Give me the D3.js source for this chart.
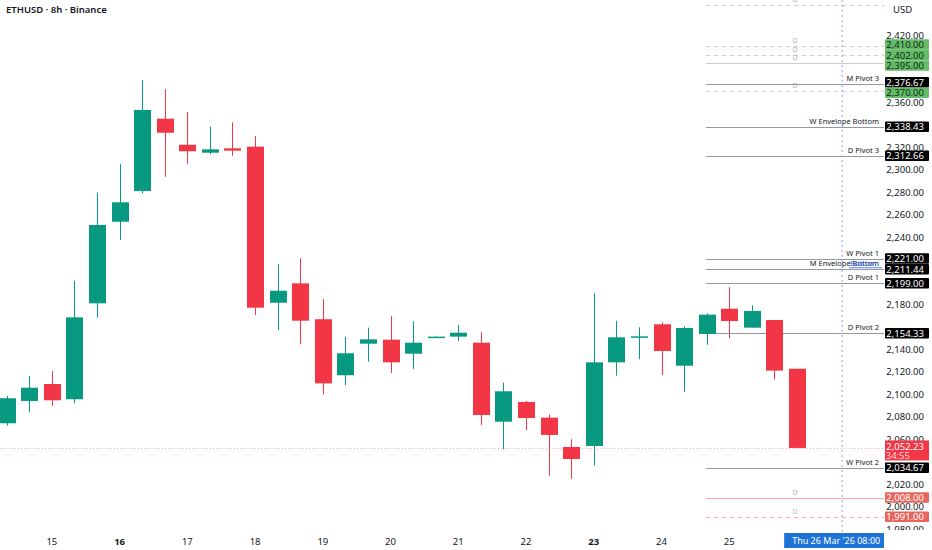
<!DOCTYPE html>
<html lang="en">
<head>
<meta charset="UTF-8">
<title>ETHUSD 8h</title>
<script src="https://d3js.org/d3.v7.min.js"></script>
<style>
  body { margin: 0; background: #fff; font-family: "Noto Sans", Arial, sans-serif; }
  svg { display: block; }
  .price-lbl { font-size: 9.5px; fill: #131722; }
  .day-lbl { font-size: 9.5px; fill: #131722; }
  .lvl-name { font-size: 7.5px; fill: #131722; }
  .d-mark { font-size: 7px; fill: #b2b5be; }
</style>
</head>
<body>
<svg id="chart"></svg>
<script>
// candles, 8h bars starting Sat 14 Mar 2026 08:00
const firstBar = Date.UTC(2026, 2, 14, 8);
const opens  = [2074.2, 2094.1, 2109.2, 2095.6, 2181.1, 2253.8, 2281.2, 2345.6, 2322.4, 2315.3, 2319.2, 2320.7,
                2181.6, 2198.9, 2166.9, 2117.0, 2145.1, 2148.7, 2136.2, 2150.5, 2151.4, 2146.0, 2075.6, 2093.2,
                2079.2, 2053.1, 2054.0, 2128.5, 2150.8, 2162.4, 2125.5, 2153.8, 2176.3, 2159.4, 2166.2, 2122.8];
const highs  = [2098.5, 2116.3, 2120.8, 2201.3, 2279.7, 2305.2, 2380.1, 2372.1, 2351.6, 2338.5, 2342.4, 2330.2,
                2215.9, 2221.2, 2184.9, 2151.1, 2159.4, 2169.8, 2165.1, 2151.6, 2161.8, 2155.3, 2110.4, 2094.1,
                2082.2, 2059.9, 2190.0, 2165.6, 2159.7, 2164.2, 2160.6, 2172.2, 2195.4, 2179.3, 2166.2, 2122.8];
const lows   = [2072.0, 2084.0, 2089.6, 2092.0, 2168.3, 2237.5, 2279.1, 2293.9, 2305.2, 2313.9, 2312.6, 2170.7,
                2157.3, 2144.6, 2100.0, 2108.1, 2129.1, 2119.0, 2122.6, 2150.3, 2147.5, 2072.7, 2051.0, 2068.0,
                2027.5, 2024.8, 2036.4, 2116.6, 2131.2, 2117.2, 2102.3, 2144.2, 2149.9, 2159.4, 2113.4, 2052.23];
const closes = [2096.5, 2105.9, 2094.7, 2168.6, 2250.9, 2271.1, 2353.4, 2333.1, 2316.6, 2318.3, 2317.1, 2177.2,
                2192.3, 2165.6, 2109.8, 2136.6, 2149.0, 2128.5, 2146.0, 2151.4, 2154.9, 2081.6, 2102.7, 2078.9,
                2063.8, 2042.4, 2128.5, 2150.8, 2151.7, 2138.6, 2159.1, 2171.0, 2165.3, 2174.3, 2121.1, 2052.23];

// price axis ticks
const priceTicks = d3.range(1980, 2421, 20);
const lastPrice = 2052.23;
const countdown = "34:55";

// named pivot levels (black labels)
const pivotNames  = ["M Pivot 3", "W Envelope Bottom", "D Pivot 3", "W Pivot 1", "M Envelope Bottom", "D Pivot 1", "D Pivot 2", "W Pivot 2"];
const pivotValues = [2376.67, 2338.43, 2312.66, 2221.00, 2211.44, 2199.00, 2154.33, 2034.67];

// "D" levels
const dValues = [2447, 2410, 2402, 2395, 2370, 2008, 1991];
const dKinds  = ["grey", "green", "green", "green", "green", "red", "red"];
const dDashed = [true, true, true, false, true, false, true];

const crossIndex = 37;
const crossLabel = "Thu 26 Mar '26   08:00";

const W = 932, H = 550;
const scaleLeft = 884;
const lvlX0 = 706;
const tagH = 10.5;

const svg = d3.select("#chart").attr("width", W).attr("height", H);
svg.append("rect").attr("width", W).attr("height", H).attr("fill", "#fff");

const bars = opens.map((o, i) => ({
  i, o, h: highs[i], l: lows[i], c: closes[i],
  t: new Date(firstBar + i * 8 * 3600e3)
}));

const x = d3.scaleLinear().domain([0, 35]).range([6.7, 797]);
const y = d3.scaleLinear().domain([1980, 2420]).range([529, 35.2]);
const bodyW = 17;
const UP = "#089981", DOWN = "#f23645";

// horizontal levels
const lv = svg.append("g");
dValues.forEach((v, k) => {
  const col = dKinds[k] === "red" ? "#f7a9af" : "#c9ccd3";
  lv.append("line")
    .attr("x1", lvlX0).attr("x2", scaleLeft)
    .attr("y1", Math.round(y(v)) + 0.5).attr("y2", Math.round(y(v)) + 0.5)
    .attr("stroke", col).attr("stroke-width", 1)
    .attr("stroke-dasharray", dDashed[k] ? "4,4" : null);
  lv.append("text").attr("class", "d-mark")
    .attr("x", 795).attr("y", y(v) - 3)
    .attr("text-anchor", "middle")
    .attr("fill", dKinds[k] === "red" ? "#f5a3aa" : "#b8bbc4")
    .text("D");
});
pivotValues.forEach((v, k) => {
  lv.append("line")
    .attr("x1", lvlX0).attr("x2", scaleLeft)
    .attr("y1", Math.round(y(v)) + 0.5).attr("y2", Math.round(y(v)) + 0.5)
    .attr("stroke", "#9598a1").attr("stroke-width", 1);
  lv.append("text").attr("class", "lvl-name")
    .attr("x", 879).attr("y", y(v) - 3)
    .attr("text-anchor", "end")
    .text(pivotNames[k]);
});
// overlapping blue label next to M Envelope Bottom
const mEnv = y(pivotValues[4]);
lv.append("text").attr("x", 850).attr("y", mEnv - 3)
  .attr("font-size", "7.5px").attr("fill", "#2962ff")
  .text("Bottom");
lv.append("line").attr("x1", 849).attr("x2", 882)
  .attr("y1", mEnv - 1.5).attr("y2", mEnv - 1.5)
  .attr("stroke", "#2962ff").attr("stroke-width", 0.8);

// crosshair
svg.append("line")
  .attr("x1", x(crossIndex)).attr("x2", x(crossIndex))
  .attr("y1", 0).attr("y2", 532)
  .attr("stroke", "#7fa6e8").attr("stroke-width", 1)
  .attr("stroke-dasharray", "2,3");

// last price line
svg.append("line")
  .attr("x1", 0).attr("x2", scaleLeft)
  .attr("y1", Math.round(y(lastPrice)) + 0.5).attr("y2", Math.round(y(lastPrice)) + 0.5)
  .attr("stroke", "#f7a9af").attr("stroke-width", 1)
  .attr("stroke-dasharray", "1,2");

// candles
const cg = svg.append("g").selectAll("g").data(bars).enter().append("g");
cg.append("line")
  .attr("x1", d => Math.round(x(d.i)) + 0.5).attr("x2", d => Math.round(x(d.i)) + 0.5)
  .attr("y1", d => y(d.h)).attr("y2", d => y(d.l))
  .attr("stroke", d => d.c >= d.o ? UP : DOWN).attr("stroke-width", 1);
cg.append("rect")
  .attr("x", d => Math.round(x(d.i)) + 0.5 - bodyW / 2)
  .attr("y", d => y(Math.max(d.o, d.c)))
  .attr("width", bodyW)
  .attr("height", d => Math.max(1.5, Math.abs(y(d.o) - y(d.c))))
  .attr("fill", d => d.c >= d.o ? UP : DOWN);

// tags, spread apart so they do not overlap (like the platform does)
const tags = [];
dValues.forEach((v, k) => {
  if (dKinds[k] === "green") tags.push({ v, bg: "#66bb6a", fg: "#0b2e0d" });
  if (dKinds[k] === "red") tags.push({ v, bg: "#e8655d", fg: "#fff" });
});
pivotValues.forEach(v => tags.push({ v, bg: "#000", fg: "#fff" }));
tags.forEach(t => t.cy = y(t.v));
tags.sort((a, b) => a.cy - b.cy);
for (let it = 0; it < 40; it++) {
  for (let k = 1; k < tags.length; k++) {
    const gap = tags[k].cy - tags[k - 1].cy;
    if (gap < tagH) {
      const push = (tagH - gap) / 2;
      tags[k - 1].cy -= push;
      tags[k].cy += push;
    }
  }
}
const lp = y(lastPrice);
// tick labels that sit right under a tag are hidden
const busy = tags.map(t => [t.cy - 6.5, t.cy + 6.5]).concat([[lp - 4, lp + 12.5]]);
const shownTicks = priceTicks.filter(p => !busy.some(([a, b]) => y(p) > a && y(p) < b));

// price scale
const ps = svg.append("g");
ps.append("rect").attr("x", scaleLeft).attr("y", 0).attr("width", W - scaleLeft).attr("height", H).attr("fill", "#fff");
ps.selectAll("text.price-lbl").data(shownTicks).enter().append("text")
  .attr("class", "price-lbl")
  .attr("x", 924).attr("y", d => y(d) + 3.5)
  .attr("text-anchor", "end")
  .text(d => d3.format(",.2f")(d));
ps.append("text").attr("class", "price-lbl")
  .attr("x", 893).attr("y", 13).text("USD");

const tg = ps.selectAll("g.tag").data(tags).enter().append("g");
tg.append("rect").attr("x", scaleLeft + 1).attr("y", d => d.cy - tagH / 2)
  .attr("width", 44).attr("height", tagH).attr("rx", 1).attr("fill", d => d.bg);
tg.append("text").attr("class", "price-lbl")
  .attr("x", 924).attr("y", d => d.cy + 3.5)
  .attr("text-anchor", "end").style("fill", d => d.fg)
  .text(d => d3.format(",.2f")(d.v));

// last price tag with countdown
ps.append("rect").attr("x", scaleLeft + 1).attr("y", lp - 7.5).attr("width", 44).attr("height", 20)
  .attr("fill", DOWN);
ps.append("text").attr("class", "price-lbl").style("fill", "#fff")
  .attr("x", 924).attr("y", lp + 2.5).attr("text-anchor", "end")
  .text(d3.format(",.2f")(lastPrice));
ps.append("text").attr("class", "price-lbl").style("fill", "#ffd9dc")
  .attr("x", 910).attr("y", lp + 11).attr("text-anchor", "end")
  .text(countdown);

// time axis: day labels on bars opening at 00:00 UTC
const dayBars = bars.filter(d => d.t.getUTCHours() === 0 && d.i < 35);
svg.append("g").selectAll("text").data(dayBars).enter().append("text")
  .attr("class", "day-lbl")
  .attr("x", d => x(d.i)).attr("y", 545)
  .attr("text-anchor", "middle")
  .attr("font-weight", d => d.t.getUTCDay() === 1 ? "bold" : null)
  .text(d => d.t.getUTCDate());

// crosshair time label
const cx = x(crossIndex);
svg.append("rect").attr("x", cx - 58).attr("y", 533).attr("width", 118).attr("height", 15)
  .attr("fill", "#1e73d6");
svg.append("text").attr("x", cx - 50).attr("y", 544)
  .attr("font-size", "9px").attr("fill", "#fff").text(crossLabel);
svg.append("rect").attr("x", scaleLeft).attr("y", 530).attr("width", W - scaleLeft).attr("height", 20).attr("fill", "#fff");

// title
svg.append("text").attr("x", 6).attr("y", 13)
  .attr("font-size", "9.5px").attr("font-weight", "600").attr("fill", "#131722")
  .text("ETHUSD · 8h · Binance");
</script>
</body>
</html>
